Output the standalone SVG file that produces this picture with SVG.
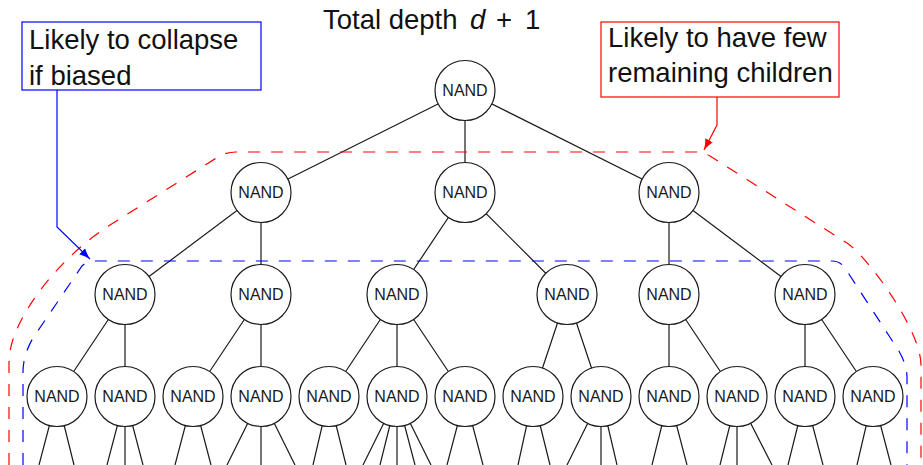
<svg xmlns="http://www.w3.org/2000/svg" width="923" height="465" viewBox="0 0 923 465">
<style>
.node circle{fill:#fff;stroke:#1a1a1a;stroke-width:1.2}
.node text{font-family:"Liberation Sans",Arial,sans-serif;font-size:16px;fill:#1a1a1a;text-anchor:middle}
.edge{stroke:#1a1a1a;stroke-width:1.2;fill:none}
.lbl{font-family:"Liberation Sans",Arial,sans-serif;font-size:27.5px;fill:#111}
.hullR{fill:none;stroke:#ff0000;stroke-width:1.2;stroke-dasharray:12 11}
.hullB{fill:none;stroke:#0000ff;stroke-width:1.2;stroke-dasharray:12 11}
</style>
<defs>
<marker id="arB" markerUnits="userSpaceOnUse" markerWidth="12" markerHeight="10" refX="11" refY="5" orient="auto"><path d="M0,0.8 Q5,3.5 11,5 Q5,6.5 0,9.2 z" fill="#0000ff"/></marker>
<marker id="arR" markerUnits="userSpaceOnUse" markerWidth="12" markerHeight="10" refX="11" refY="5" orient="auto"><path d="M0,0.8 Q5,3.5 11,5 Q5,6.5 0,9.2 z" fill="#ff0000"/></marker>
</defs>
<rect width="923" height="465" fill="#fff"/>
<text class="lbl" y="29"><tspan x="323">Total depth</tspan><tspan x="470" font-style="italic">d</tspan><tspan x="496">+</tspan><tspan x="525">1</tspan></text>
<g id="connectors">
<g class="edge">
<path d="M465,90.5L261,192.5M465,90.5L465,192.5M465,90.5L669,192.5"/>
<path d="M261,192.5L125,294.5M261,192.5L261,294.5M465,192.5L397,294.5M465,192.5L567,294.5M669,192.5L669,294.5M669,192.5L805,294.5"/>
<path d="M125,294.5L57,396.5M125,294.5L125,396.5M261,294.5L193,396.5M261,294.5L261,396.5M397,294.5L329,396.5M397,294.5L397,396.5M397,294.5L465,396.5M567,294.5L533,396.5M567,294.5L601,396.5M669,294.5L669,396.5M669,294.5L737,396.5M805,294.5L805,396.5M805,294.5L873,396.5"/>
<path d="M57,396.5L39,465M57,396.5L74,465
M125,396.5L107,465M125,396.5L125,465M125,396.5L143,465
M193,396.5L175,465M193,396.5L211,465
M261,396.5L227,465M261,396.5L261,465M261,396.5L295,465
M329,396.5L313,465M329,396.5L346,465
M397,396.5L363,465M397,396.5L380,465M397,396.5L397,465M397,396.5L415,465M397,396.5L431,465
M465,396.5L447,465M465,396.5L483,465
M533,396.5L518,465M533,396.5L550,465
M601,396.5L567,465M601,396.5L601,465M601,396.5L617,465
M669,396.5L652,465M669,396.5L687,465
M737,396.5L720,465M737,396.5L737,465M737,396.5L772,465
M805,396.5L788,465M805,396.5L823,465
M873,396.5L857,465M873,396.5L891,465"/>
</g>
<path class="hullR" d="M9,465V362C9,320 60,256.5 110,225L218,157Q226,152 236,152H697Q703,152 710,156L847,243C868,257 921,330 921,365V465"/>
<path class="hullB" d="M23,465V372Q23,355 33,338L82,266Q87,261 95,261H832Q840,261 845,268L895,345Q907,362 907,378V465"/>
<path d="M57,90V227L90,259" fill="none" stroke="#0000ff" stroke-width="1.2" marker-end="url(#arB)"/>
<path d="M717,97V125L704,150" fill="none" stroke="#ff0000" stroke-width="1.2" marker-end="url(#arR)"/>
</g>
<g id="labelBlue">
<rect x="22" y="22" width="239" height="68" fill="#fff" stroke="#0000ff" stroke-width="1.2"/>
<text class="lbl" x="29" y="49">Likely to collapse</text>
<text class="lbl" x="29" y="85">if biased</text>
</g>
<g id="labelRed">
<rect x="601" y="22" width="238" height="75" fill="#fff" stroke="#ff0000" stroke-width="1.2"/>
<text class="lbl" x="608" y="47">Likely to have few</text>
<text class="lbl" x="608" y="82">remaining children</text>
</g>
<g id="n0" class="node"><circle cx="465" cy="90.5" r="30"/><text x="465" y="96">NAND</text></g>
<g id="n1a" class="node"><circle cx="261" cy="192.5" r="30"/><text x="261" y="198">NAND</text></g>
<g id="n1b" class="node"><circle cx="465" cy="192.5" r="30"/><text x="465" y="198">NAND</text></g>
<g id="n1c" class="node"><circle cx="669" cy="192.5" r="30"/><text x="669" y="198">NAND</text></g>
<g id="n2a" class="node"><circle cx="125" cy="294.5" r="30"/><text x="125" y="300">NAND</text></g>
<g id="n2b" class="node"><circle cx="261" cy="294.5" r="30"/><text x="261" y="300">NAND</text></g>
<g id="n2c" class="node"><circle cx="397" cy="294.5" r="30"/><text x="397" y="300">NAND</text></g>
<g id="n2d" class="node"><circle cx="567" cy="294.5" r="30"/><text x="567" y="300">NAND</text></g>
<g id="n2e" class="node"><circle cx="669" cy="294.5" r="30"/><text x="669" y="300">NAND</text></g>
<g id="n2f" class="node"><circle cx="805" cy="294.5" r="30"/><text x="805" y="300">NAND</text></g>
<g id="n3a" class="node"><circle cx="57" cy="396.5" r="30"/><text x="57" y="402">NAND</text></g>
<g id="n3b" class="node"><circle cx="125" cy="396.5" r="30"/><text x="125" y="402">NAND</text></g>
<g id="n3c" class="node"><circle cx="193" cy="396.5" r="30"/><text x="193" y="402">NAND</text></g>
<g id="n3d" class="node"><circle cx="261" cy="396.5" r="30"/><text x="261" y="402">NAND</text></g>
<g id="n3e" class="node"><circle cx="329" cy="396.5" r="30"/><text x="329" y="402">NAND</text></g>
<g id="n3f" class="node"><circle cx="397" cy="396.5" r="30"/><text x="397" y="402">NAND</text></g>
<g id="n3g" class="node"><circle cx="465" cy="396.5" r="30"/><text x="465" y="402">NAND</text></g>
<g id="n3h" class="node"><circle cx="533" cy="396.5" r="30"/><text x="533" y="402">NAND</text></g>
<g id="n3i" class="node"><circle cx="601" cy="396.5" r="30"/><text x="601" y="402">NAND</text></g>
<g id="n3j" class="node"><circle cx="669" cy="396.5" r="30"/><text x="669" y="402">NAND</text></g>
<g id="n3k" class="node"><circle cx="737" cy="396.5" r="30"/><text x="737" y="402">NAND</text></g>
<g id="n3l" class="node"><circle cx="805" cy="396.5" r="30"/><text x="805" y="402">NAND</text></g>
<g id="n3m" class="node"><circle cx="873" cy="396.5" r="30"/><text x="873" y="402">NAND</text></g>
</svg>
